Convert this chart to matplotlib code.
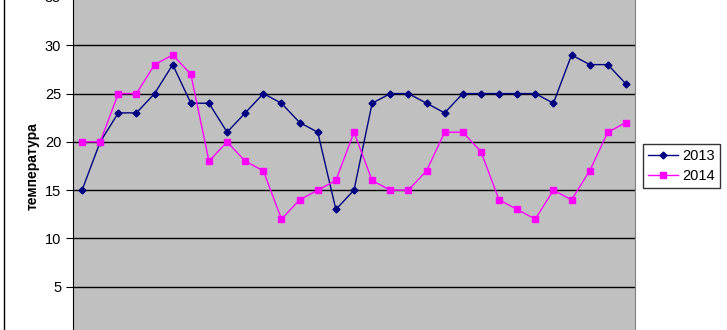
import matplotlib
matplotlib.use("Agg")
import matplotlib.pyplot as plt
from matplotlib.lines import Line2D

plt.rcParams['font.family'] = ['Liberation Sans', 'DejaVu Sans']

days = list(range(1, 32))
temp_2013 = [15, 20, 23, 23, 25, 28, 24, 24, 21, 23, 25, 24, 22, 21, 13, 15,
             24, 25, 25, 24, 23, 25, 25, 25, 25, 25, 24, 29, 28, 28, 26]
temp_2014 = [20, 20, 25, 25, 28, 29, 27, 18, 20, 18, 17, 12, 14, 15, 16, 21,
             16, 15, 15, 17, 21, 21, 19, 14, 13, 12, 15, 14, 17, 21, 22]
y_ticks = [0, 5, 10, 15, 20, 25, 30, 35]

fig = plt.figure(figsize=(7.27, 3.3), dpi=100)
W, H = 727, 330
# plot area runs past the top and bottom of the picture (cropped screenshot)
left, right, top, bottom = 73, 635, -3, 335
ax = fig.add_axes([left / W, (H - bottom) / H, (right - left) / W, (bottom - top) / H])
ax.set_facecolor('#C0C0C0')

ax.plot(days, temp_2013, color='#000080', marker='D', markersize=3.5, linewidth=1, label='2013')
ax.plot(days, temp_2014, color='#FF00FF', marker='s', markersize=4.5, linewidth=1, label='2014')

ax.set_xlim(0.5, 31.5)
ax.set_ylim(0, 35)
ax.set_yticks(y_ticks)
ax.set_xticks([])
ax.grid(axis='y', color='black', linewidth=1)
ax.set_axisbelow(True)
ax.tick_params(axis='y', labelsize=10.5, length=5, direction='out', color='black')

ax.spines['top'].set_visible(False)
ax.spines['bottom'].set_visible(False)
ax.spines['right'].set_color('#808080')
ax.spines['left'].set_color('black')

ax.set_ylabel('температура', fontsize=10, fontweight='bold', labelpad=4)

leg = fig.legend(loc='center', bbox_to_anchor=(681.5 / W, 1 - 166 / H), fontsize=10.5,
                 frameon=True, fancybox=False, edgecolor='black', handlelength=2.0,
                 borderpad=0.35, labelspacing=0.4, handletextpad=0.3)
leg.get_frame().set_linewidth(1)

# chart area border on the left
fig.add_artist(Line2D([4 / W, 4 / W], [0, 1], color='black', linewidth=1, transform=fig.transFigure))

fig.savefig('out.png', dpi=100)
